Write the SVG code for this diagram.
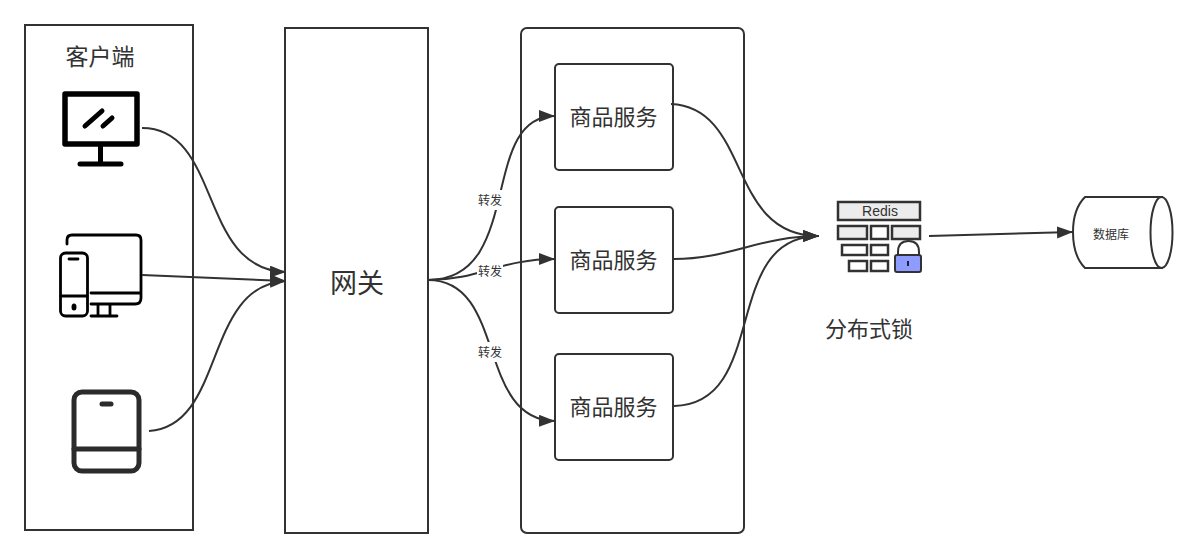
<svg xmlns="http://www.w3.org/2000/svg" width="1198" height="557" viewBox="0 0 1198 557">
<defs>
<style>
.box{fill:#fff;stroke:#323232;stroke-width:2}
.c{fill:none;stroke:#323232;stroke-width:2}
.t{font-family:"Noto Sans CJK SC","Liberation Sans",sans-serif;fill:#323232;text-anchor:middle}
.k{fill:none;stroke:#000;stroke-linecap:round;stroke-linejoin:round}
.d{fill:none;stroke:#2b2b2b;stroke-linecap:round;stroke-linejoin:round}
.r{stroke:#323232;stroke-width:2.500}
</style>
<marker id="a" markerUnits="userSpaceOnUse" markerWidth="18" markerHeight="14" refX="16" refY="6" orient="auto"><path d="M0 0L16 6L0 12z" fill="#323232"/></marker>
</defs>
<rect width="1198" height="557" fill="#fff"/>
<g id="client"><rect class="box" x="25" y="25" width="168" height="505"/><text class="t" x="100" y="65" font-size="23">客户端</text></g>
<g id="gateway"><rect class="box" x="285" y="28" width="143" height="505"/><text class="t" x="357" y="293" font-size="27">网关</text></g>
<g id="services"><rect class="box" x="521" y="28" width="223" height="505" rx="6"/></g>
<g id="icon-monitor">
<rect class="k" x="65" y="94" width="72" height="50" stroke-width="5.500"/>
<path class="k" stroke-width="5" d="M85 126L102 111M103 126L112 118"/>
<path class="k" stroke-width="5" d="M100.500 146V164M80 164H121"/>
</g>
<g id="icon-devices">
<path class="k" stroke-width="2.800" d="M67 244V240Q67 235 72 235H136Q141 235 141 240V298Q141 304 135 304H91M91 293H140M98 305V316M110 305V316M91 316H117"/>
<rect class="k" x="60.500" y="253" width="27" height="63" rx="5" stroke-width="2.800"/>
<path class="k" stroke-width="2.800" d="M61 296H87M69 259H78"/>
<ellipse cx="74" cy="307" rx="2.500" ry="3.500" fill="#000"/>
</g>
<g id="icon-tablet">
<rect class="d" x="74" y="392" width="65" height="79" rx="8" stroke-width="5"/>
<path class="d" stroke-width="5" d="M74 449H139"/>
<path class="d" stroke-width="5" d="M102 404H111"/>
</g>
<g id="service-1"><rect class="box" x="555" y="64" width="118" height="106" rx="4"/><text class="t" x="613.500" y="125" font-size="22">商品服务</text></g>
<g id="service-2"><rect class="box" x="555" y="207" width="118" height="106" rx="4"/><text class="t" x="613.500" y="268" font-size="22">商品服务</text></g>
<g id="service-3"><rect class="box" x="555" y="354" width="118" height="106" rx="4"/><text class="t" x="613.500" y="415" font-size="22">商品服务</text></g>
<g id="redis">
<rect class="r" x="838" y="202" width="82" height="18" fill="#ececec"/>
<text x="880" y="216" font-family="'Liberation Sans',sans-serif" font-size="14" fill="#323232" text-anchor="middle">Redis</text>
<rect class="r" x="838" y="226" width="29" height="13" fill="#ececec"/>
<rect class="r" x="871" y="226" width="17" height="13" fill="#fff"/>
<rect class="r" x="892" y="226" width="28" height="13" fill="#ececec"/>
<rect class="r" x="842" y="245" width="25" height="10" fill="#fff"/>
<rect class="r" x="871" y="245" width="17" height="10" fill="#fff"/>
<rect class="r" x="849" y="261" width="18" height="10" fill="#fff"/>
<rect class="r" x="871" y="261" width="17" height="10" fill="#fff"/>
<path class="c" d="M898 256V252Q898 241 908.500 241Q919 241 919 252V256"/>
<rect x="895" y="255" width="26" height="17" rx="2" fill="#8f9cff" stroke="#323232" stroke-width="2"/>
<rect x="907" y="261" width="2" height="5" fill="#222"/>
</g>
<g id="redis-label"><text class="t" x="869" y="337" font-size="22">分布式锁</text></g>
<g id="database">
<path class="box" d="M1085 197H1162V268H1085Q1073 256 1073 232Q1073 209 1085 197z"/>
<ellipse class="box" cx="1161.500" cy="232.500" rx="11" ry="35.500"/>
<text class="t" x="1111" y="239" font-size="12">数据库</text>
</g>
<g id="connectors">
<path class="c" marker-end="url(#a)" d="M142 128C222 128 198 270 286 272"/>
<path class="c" marker-end="url(#a)" d="M142 275L286 281"/>
<path class="c" marker-end="url(#a)" d="M149 431C226 426 203 285 286 281"/>
<path class="c" marker-end="url(#a)" d="M428 280C525 280 478 116 555 116"/>
<path class="c" marker-end="url(#a)" d="M428 280C480 280 500 259 555 259"/>
<path class="c" marker-end="url(#a)" d="M428 280C507 280 476 420 555 421"/>
<path class="c" marker-end="url(#a)" d="M671 104C752 108 726 236 819 236"/>
<path class="c" marker-end="url(#a)" d="M674 259C730 259 760 236 819 236"/>
<path class="c" marker-end="url(#a)" d="M674 406C770 404 720 236 819 236"/>
<path class="c" marker-end="url(#a)" d="M929 236L1073 232"/>
</g>
<g id="edge-labels">
<rect x="477" y="190" width="26" height="20" fill="#fff"/><text class="t" x="490" y="205" font-size="12">转发</text>
<rect x="477" y="262" width="26" height="18" fill="#fff"/><text class="t" x="490" y="276" font-size="12">转发</text>
<rect x="477" y="342" width="26" height="20" fill="#fff"/><text class="t" x="490" y="357" font-size="12">转发</text>
</g>
</svg>
